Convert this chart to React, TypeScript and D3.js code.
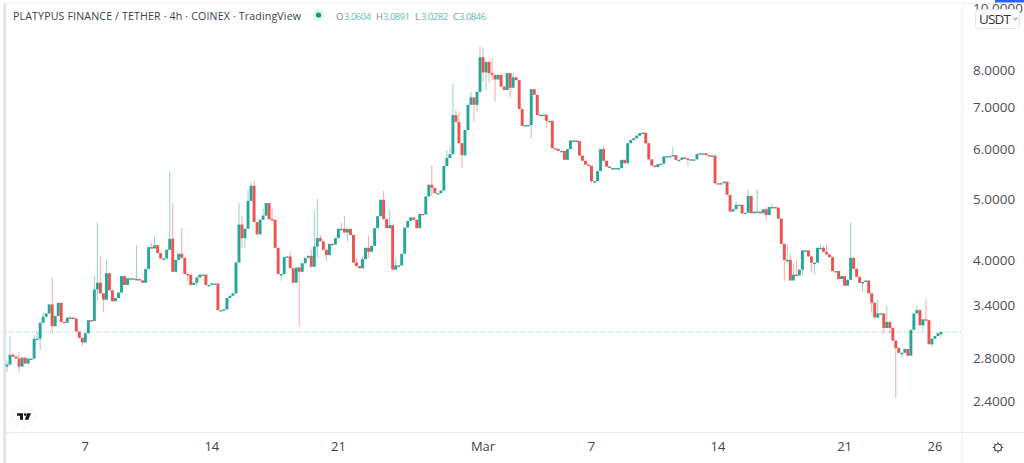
import React from "react";
import * as d3 from "d3";

const closes = [
2.74,2.84,2.82,2.80,2.72,2.81,2.75,2.80,2.80,3.01,3.01,3.19,3.26,3.30,3.41,3.15,3.27,3.43,3.20,3.19,
3.25,3.25,3.24,3.09,3.02,2.97,3.07,3.22,3.21,3.60,3.69,3.55,3.47,3.82,3.59,3.45,3.49,3.56,3.78,3.66,
3.75,3.75,3.74,3.74,3.72,3.69,3.88,4.20,4.18,4.23,4.11,4.03,4.03,4.16,4.33,3.84,4.01,4.10,4.04,3.81,
3.80,3.66,3.69,3.76,3.80,3.80,3.66,3.66,3.68,3.68,3.34,3.34,3.35,3.49,3.52,3.55,3.97,4.56,4.34,4.49,
4.97,5.25,4.60,4.40,4.64,4.71,4.93,4.65,4.64,4.19,3.81,3.81,4.05,4.06,3.89,3.69,3.90,3.84,3.96,4.04,
4.07,3.91,4.21,4.34,4.29,4.16,4.08,4.25,4.24,4.34,4.49,4.49,4.43,4.49,4.39,3.97,3.92,3.89,4.02,4.19,
4.13,4.22,4.50,4.70,4.99,4.65,4.50,4.55,3.87,3.93,3.93,4.10,4.51,4.62,4.68,4.64,4.50,4.74,4.73,5.05,
5.27,5.21,5.11,5.11,5.16,5.64,5.81,5.89,6.79,6.62,6.13,5.87,6.43,7.05,7.24,7.05,7.39,8.38,7.93,8.24,
7.91,7.86,7.73,7.86,7.53,7.44,7.91,7.50,7.79,7.71,6.94,6.53,6.55,6.55,7.46,7.31,6.79,6.80,6.80,6.65,
6.65,6.02,6.00,5.96,5.96,5.77,6.00,6.19,6.19,6.18,5.86,5.75,5.67,5.65,5.34,5.34,5.54,6.00,5.75,5.63,
5.60,5.60,5.60,5.60,5.77,5.70,6.13,6.20,6.24,6.30,6.36,6.37,6.13,5.78,5.65,5.62,5.68,5.69,5.84,5.85,
5.85,5.87,5.77,5.77,5.82,5.80,5.77,5.78,5.78,5.89,5.91,5.91,5.87,5.86,5.86,5.30,5.29,5.30,5.33,5.08,
4.78,4.82,4.90,4.90,4.75,4.76,5.06,4.75,4.78,4.78,4.75,4.82,4.72,4.86,4.86,4.85,4.66,4.25,4.01,4.01,
3.72,3.80,3.79,3.87,4.15,4.15,4.06,3.97,3.97,4.19,4.19,4.13,4.09,4.05,3.85,3.85,3.74,3.78,3.65,3.73,
4.04,3.88,3.77,3.69,3.70,3.72,3.55,3.43,3.25,3.30,3.30,3.13,3.20,3.13,2.99,2.91,2.86,2.86,2.90,2.83,
3.11,3.30,3.34,3.16,3.23,3.22,2.95,3.01,3.04,3.07,3.0846];
const firstOpen = 2.72;
const lastOpen = 3.0604;

const highWicks: [number, number][] = [
[0,2.77],[1,3.04],[2,2.86],[4,2.87],[9,3.05],[10,3.09],[12,3.31],[15,3.76],[21,3.27],[29,3.78],[30,4.59],[31,4.07],[33,4.00],
[43,4.23],[48,4.27],[49,4.38],[54,5.53],[55,4.93],[58,4.50],[77,4.93],[78,4.71],[80,5.16],[81,5.31],[82,5.35],[85,4.83],[88,4.83],
[94,4.14],[101,4.17],[102,4.80],[103,5.00],[104,4.39],[111,4.59],[112,4.70],[116,4.04],[118,4.06],[120,4.38],[125,5.15],[127,4.81],
[129,4.03],[141,5.66],[146,5.98],[147,6.05],[148,7.60],[149,6.94],[150,6.85],[154,7.39],[157,8.73],[158,8.68],[161,8.32],[167,7.91],
[168,7.92],[198,6.07],[221,6.05],[242,4.96],[246,5.18],[249,5.19],[252,4.85],[254,4.91],[259,4.24],[260,4.10],[261,3.96],[262,4.01],
[270,4.24],[271,4.22],[272,4.24],[280,4.59],[289,3.47],[292,3.39],[294,3.14],[302,3.39],[305,3.48],[310,3.0891]];
const lowWicks: [number, number][] = [
[0,2.67],[4,2.66],[11,2.89],[15,3.07],[25,2.93],[30,3.45],[32,3.32],[60,3.71],[63,3.64],[78,4.19],[79,4.19],[80,4.67],[91,3.72],
[97,3.15],[103,4.04],[106,4.00],[113,4.29],[120,4.04],[141,5.05],[151,5.60],[152,5.84],[155,6.63],[156,6.87],[158,7.66],[159,7.44],
[160,7.66],[161,7.71],[162,7.13],[167,7.24],[174,6.24],[179,6.47],[194,5.30],[195,5.30],[226,5.65],[252,4.62],[258,3.71],[259,3.96],
[261,3.73],[264,3.79],[267,3.84],[268,3.81],[284,3.57],[287,3.31],[291,3.07],[293,3.07],[295,2.43],[297,2.81],[304,3.10],[307,2.92],[310,3.0282]];

const priceTicks = [10, 8, 7, 6, 5, 4, 3.4, 2.8, 2.4];
const dateTicks: [string, string][] = [
["2022-02-07","7"],["2022-02-14","14"],["2022-02-21","21"],["2022-03-01","Mar"],
["2022-03-07","7"],["2022-03-14","14"],["2022-03-21","21"],["2022-03-26","26"]];
const firstBar = Date.UTC(2022, 1, 2, 16);
const fourHours = 4 * 3600 * 1000;
const ohlcLegend: [string, string, number, number][] = [
["O","3.0604",336,344],["H","3.0891",376,383],["L","3.0282",415,421],["C","3.0846",453,459]];

const UP = "#26a69a";
const DOWN = "#ef5350";
const AXIS_FONT = "'Open Sans', sans-serif";

export default function App() {
  const barTime = (i: number) => firstBar + i * fourHours;
  const x = d3.scaleUtc()
    .domain([new Date(barTime(0)), new Date(barTime(closes.length - 1))])
    .range([7, 941]);
  const y = d3.scaleLog().domain([8, 2.4]).range([70, 401]);
  const highMap = new Map(highWicks);
  const lowMap = new Map(lowWicks);
  const bars = closes.map((c, i) => {
    const o = i === 0 ? firstOpen : i === closes.length - 1 ? lastOpen : closes[i - 1];
    return {
      i, o, c,
      h: highMap.get(i) ?? Math.max(o, c),
      l: lowMap.get(i) ?? Math.min(o, c),
    };
  });
  const lineY = y(closes[closes.length - 1]);
  const gear = d3.range(8).map((k) => (k * Math.PI) / 4);

  return (
    <svg width={1024} height={463} style={{ position: "absolute", left: 0, top: 0, background: "#fff", display: "block" }}>
      <rect x={0} y={0} width={1024} height={463} fill="#ffffff" />
      <rect x={3.3} y={3} width={2.8} height={460} fill="#dfe2ea" />
      <line x1={3} x2={1024} y1={3.5} y2={3.5} stroke="#eef0f3" />
      <rect x={995} y={0} width={29} height={2.5} fill="#2962ff" />
      <line x1={6} x2={1024} y1={432.5} y2={432.5} stroke="#e9eaee" />
      <line x1={962.5} x2={962.5} y1={4} y2={463} stroke="#eceef1" />

      <line x1={6} x2={962} y1={lineY} y2={lineY} stroke={UP} strokeOpacity={0.45} strokeDasharray="1 1" />

      {bars.map((b) => {
        const col = b.c >= b.o ? UP : DOWN;
        const cx = x(new Date(barTime(b.i)));
        const top = y(Math.max(b.o, b.c));
        const bot = y(Math.min(b.o, b.c));
        return (
          <g key={b.i}>
            <line x1={cx} x2={cx} y1={y(b.h)} y2={y(b.l)} stroke={col} strokeOpacity={0.5} strokeWidth={1} />
            <rect x={cx - 1.45} y={top} width={2.9} height={Math.max(bot - top, 1.4)} fill={col} />
          </g>
        );
      })}

      {/* header */}
      <text x={13} y={19.5} fontFamily={AXIS_FONT} fontSize={10.6} fill="#3a3e4a" textLength={288}>
        PLATYPUS FINANCE / TETHER · 4h · COINEX · TradingView
      </text>
      <circle cx={318.5} cy={15} r={6} fill="#089981" fillOpacity={0.13} />
      <circle cx={318.5} cy={15} r={2.6} fill="#089981" />
      {ohlcLegend.map(([k, v, kx, vx]) => (
        <g key={k} fontFamily={AXIS_FONT} fontSize={9.4}>
          <text x={kx} y={19.5} fill="#85888f">{k}</text>
          <text x={vx} y={19.5} fill="#5fbdb3" textLength={27}>{v}</text>
        </g>
      ))}

      {/* price axis */}
      {priceTicks.map((p) => (
        <text key={p} x={973} y={y(p) + 4.8} fontFamily={AXIS_FONT} fontSize={13.5} fill="#4a4d57">
          {p.toFixed(4)}
        </text>
      ))}
      <rect x={975.5} y={9.5} width={44} height={19} rx={3} fill="#fff" stroke="#e3e5ea" />
      <text x={979} y={23.5} fontFamily={AXIS_FONT} fontSize={13.5} fill="#2f323c" textLength={32}>USDT</text>
      <path d="M1013.5 18 l1.8 1.5 l1.8 -1.5" fill="none" stroke="#555" strokeWidth={0.9} />

      {/* time axis */}
      {dateTicks.map(([d, label], i) => (
        <text key={i} x={x(new Date(d + "T00:00:00Z"))} y={451} textAnchor="middle" fontFamily={AXIS_FONT} fontSize={13} fill="#3f424c">
          {label}
        </text>
      ))}

      {/* logo */}
      <circle cx={23.5} cy={417} r={11.5} fill="#fff" stroke="#eef0f3" />
      <path d="M17 413.2h6v6.6h-3v-4h-3z" fill="#131722" />
      <circle cx={25.2} cy={414.6} r={1.3} fill="#131722" />
      <path d="M27.2 413.2h3.8l-2.6 6.6h-3.6z" fill="#131722" />

      {/* settings */}
      <g stroke="#2a2e39" fill="none">
        <circle cx={998} cy={447.5} r={3.6} strokeWidth={1} />
        {gear.map((a, k) => (
          <line key={k} x1={998 + 3.6 * Math.cos(a)} y1={447.5 + 3.6 * Math.sin(a)} x2={998 + 5.2 * Math.cos(a)} y2={447.5 + 5.2 * Math.sin(a)} strokeWidth={1} />
        ))}
      </g>
    </svg>
  );
}
